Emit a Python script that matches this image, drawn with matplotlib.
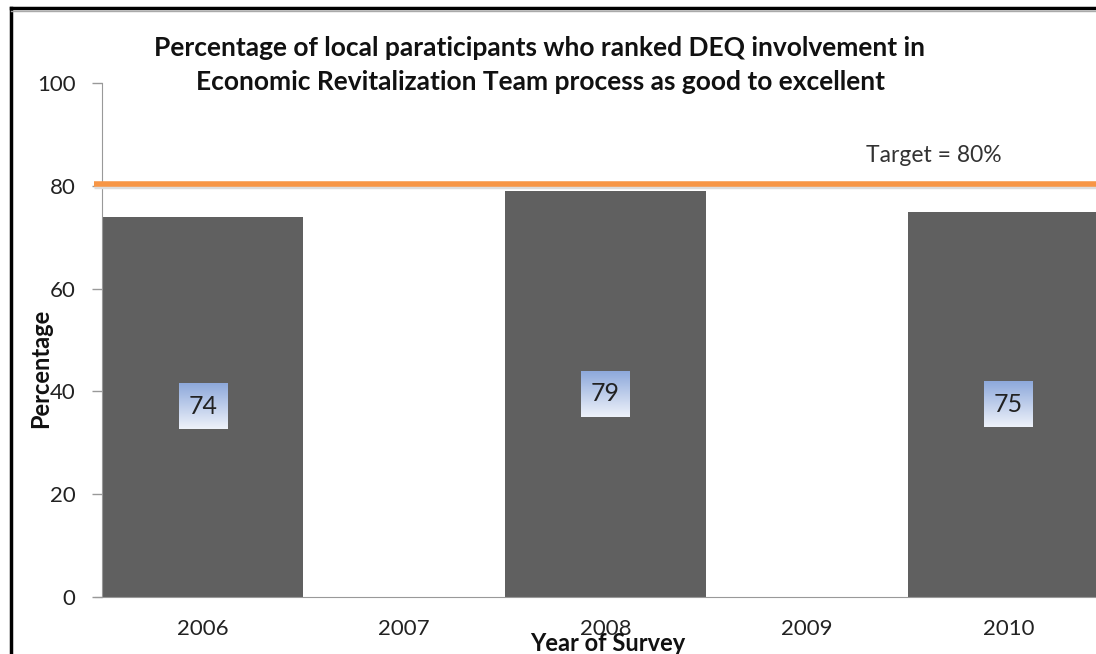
import matplotlib
matplotlib.use("Agg")
import matplotlib.pyplot as plt
import numpy as np
from matplotlib.lines import Line2D

years = [2006, 2007, 2008, 2009, 2010]
percent = [74, None, 79, None, 75]
target = 80
yticks = [0, 20, 40, 60, 80, 100]
title = ("Percentage of local paraticipants who ranked DEQ involvement in\n"
         "Economic Revitalization Team process as good to excellent")

plt.rcParams['font.family'] = ['Lato', 'DejaVu Sans']

fig = plt.figure(figsize=(10.96, 6.54), dpi=100)
W, H = 1096, 654
ax = fig.add_axes([102 / W, 57 / H, 1007 / W, 514 / H])

xs = [y for y, v in zip(years, percent) if v is not None]
vs = [v for v in percent if v is not None]
ax.bar(xs, vs, width=1.0, color="#606060", zorder=2)

# gradient label boxes
grad = np.linspace(0, 1, 64).reshape(-1, 1)
top = np.array([0x8e, 0xa9, 0xdb]) / 255
bot = np.array([0xee, 0xf2, 0xfa]) / 255
img = top[None, None, :] * (1 - grad[:, :, None]) + bot[None, None, :] * grad[:, :, None]
bw, bh = 0.24, 8.8
for x, v in zip(xs, vs):
    cy = v / 2
    ax.imshow(img, extent=(x - bw / 2, x + bw / 2, cy - bh / 2, cy + bh / 2),
              aspect='auto', zorder=3, interpolation='bilinear')
    ax.text(x, cy, f"{v}", ha='center', va='center', fontsize=18,
            color='#222222', zorder=4)

# target line with soft shadow
ax.plot([2005.46, 2010.6], [target - 0.2, target - 0.2], color='#dddddd', lw=2.5,
        zorder=4, clip_on=False, solid_capstyle='butt')
ax.plot([2005.46, 2010.6], [target + 0.4, target + 0.4], color='#f79646', lw=4,
        zorder=5, clip_on=False, solid_capstyle='butt')
ax.text(2009.63, 85.9, f"Target = {target}%", fontsize=16.5, color='#333333',
        ha='center', va='center')

ax.set_xlim(2005.5, 2010.5)
ax.set_ylim(0, 100)
ax.set_yticks(yticks)
ax.set_xticks(years)
ax.set_xticklabels([str(y) for y in years])
ax.tick_params(axis='y', length=7, width=1, color='#999999', labelsize=16,
               labelcolor='#222222', pad=12)
ax.tick_params(axis='x', length=0, labelsize=16, labelcolor='#222222', pad=16)
for s in ['top', 'right']:
    ax.spines[s].set_visible(False)
ax.spines['left'].set_color('#999999')
ax.spines['bottom'].set_color('#999999')
ax.spines['bottom'].set_bounds(2005.5 - 0.035, 2010.5)

ax.set_ylabel("Percentage", fontsize=17, fontweight='bold', color='#111111')
ax.yaxis.set_label_coords(-0.0497, 0.445)
ax.set_xlabel("Year of Survey", fontsize=17, fontweight='bold', color='#111111')
ax.xaxis.set_label_coords((608 - 102) / 1007, -0.068)

fig.text(540 / W, 1 - 65 / H, title, ha='center', va='center', fontsize=19,
         fontweight='bold', color='#111111', linespacing=1.45)

# outer frame (left and top edges visible)
fig.add_artist(Line2D([11 / W, 11 / W], [0, 1 - 8 / H], color='black', lw=2.5,
                      transform=fig.transFigure))
fig.add_artist(Line2D([11 / W, 1], [1 - 8 / H, 1 - 8 / H], color='black', lw=2.5,
                      transform=fig.transFigure))
fig.add_artist(Line2D([11 / W, 1], [1 - 10.5 / H, 1 - 10.5 / H], color='#aaaaaa', lw=1,
                      transform=fig.transFigure))

fig.savefig("out.png", dpi=100)
